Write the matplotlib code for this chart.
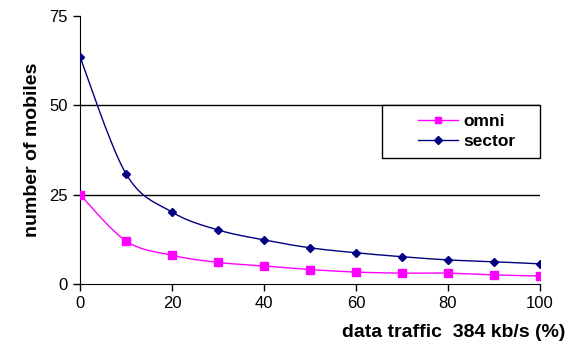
import numpy as np
import matplotlib
matplotlib.use("Agg")
import matplotlib.pyplot as plt
from matplotlib.patches import Rectangle

traffic = [0, 10, 20, 30, 40, 50, 60, 70, 80, 90, 100]
omni = [25, 12, 8, 6, 5, 4, 3.3, 3, 3, 2.5, 2.2]
sector = [63.5, 30.8, 20.1, 15.1, 12.3, 10.1, 8.7, 7.6, 6.7, 6.2, 5.6]


def smooth(xs, ys, n=20):
	# catmull-rom curve through the points, like excel's smoothed line
	xs = np.asarray(xs, float)
	ys = np.asarray(ys, float)
	px = np.concatenate([[xs[0]], xs, [xs[-1]]])
	py = np.concatenate([[ys[0]], ys, [ys[-1]]])
	outx, outy = [], []
	t = np.linspace(0, 1, n)
	for i in range(1, len(px) - 2):
		for p, out in ((px, outx), (py, outy)):
			p0, p1, p2, p3 = p[i - 1], p[i], p[i + 1], p[i + 2]
			out.extend(0.5 * (2 * p1 + (-p0 + p2) * t
				+ (2 * p0 - 5 * p1 + 4 * p2 - p3) * t ** 2
				+ (-p0 + 3 * p1 - 3 * p2 + p3) * t ** 3))
	return outx, outy


def main():
	plt.rcParams['font.family'] = ['Liberation Sans', 'DejaVu Sans']
	fig = plt.figure(figsize=(5.72, 3.5), dpi=100)
	ax = fig.add_axes([0.14, 0.189, 0.804, 0.765])

	for yv in [25, 50]:
		ax.axhline(yv, color='black', lw=1, zorder=1)

	sx, sy = smooth(traffic, omni)
	ax.plot(sx, sy, color='#ff00ff', lw=1, zorder=2)
	ax.plot(traffic, omni, 's', color='#ff00ff', ms=6, zorder=3)
	sx, sy = smooth(traffic, sector)
	ax.plot(sx, sy, color='#000080', lw=1, zorder=2)
	ax.plot(traffic, sector, 'D', color='#000080', ms=4.5, zorder=3)

	ax.plot([], [], '-s', color='#ff00ff', ms=5, lw=1, label='omni')
	ax.plot([], [], '-D', color='#000080', ms=4, lw=1, label='sector')

	ax.set_xlim(0, 100)
	ax.set_ylim(0, 75)
	ax.set_xticks([0, 20, 40, 60, 80, 100])
	ax.set_yticks([0, 25, 50, 75])
	ax.spines['top'].set_visible(False)
	ax.spines['right'].set_visible(False)
	ax.tick_params(direction='out', length=5, width=1, labelsize=12, pad=4)
	ax.set_ylabel('number of mobiles', fontsize=14, fontweight='bold', labelpad=6)
	fig.text(0.988, 0.05, 'data traffic  384 kb/s (%)', fontsize=14,
		fontweight='bold', ha='right', va='center')

	# legend box drawn separately so it can be wider than the entries
	box = Rectangle((0.657, 0.47), 0.343, 0.198, transform=ax.transAxes,
		facecolor='white', edgecolor='black', lw=1, zorder=4, clip_on=False)
	ax.add_patch(box)
	leg = ax.legend(loc='center', bbox_to_anchor=(0.84, 0.569), fontsize=12.5,
		frameon=False, handlelength=2.3, borderpad=0.2,
		labelspacing=0.25, handletextpad=0.3)
	leg.set_zorder(5)
	for t in leg.get_texts():
		t.set_fontweight('bold')

	plt.savefig('out.png', dpi=100)


main()
